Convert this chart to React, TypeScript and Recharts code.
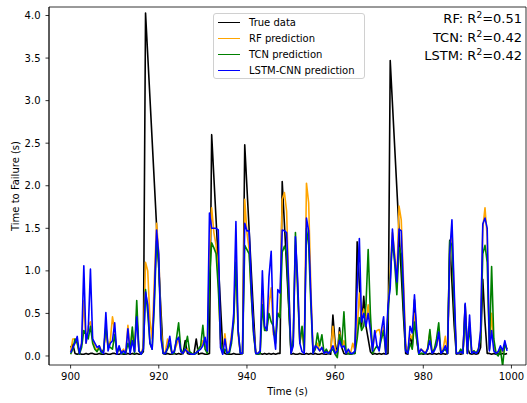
import { LineChart, Line, XAxis, YAxis, Legend } from 'recharts';

// sampled every 0.5 s from t = 900 s
const START_TIME = 900;
const STEP = 0.5;

const trueData = [
  0.1, 0.14, 0.03, 0.02, 0.03, 0.02, 0.02, 0.03, 0.02, 0.03,
  0.03, 0.02, 0.02, 0.03, 0.02, 0.02, 0.03, 0.02, 0.02, 0.03,
  0.03, 0.02, 0.02, 0.03, 0.02, 0.02, 0.03, 0.02, 0.03, 0.02,
  0.03, 0.02, 0.02, 0.05, 4.03, 3.53, 3.03, 2.53, 2.03, 1.53,
  1.03, 0.53, 0.03, 0.02, 0.03, 0.02, 0.02, 0.03, 0.02, 0.03,
  0.02, 0.03, 0.18, 0.03, 0.02, 0.02, 0.03, 0.2, 0.02, 0.03,
  0.03, 0.02, 0.02, 0.03, 2.6, 2.1, 1.6, 1.1, 0.6, 0.1,
  0.03, 0.02, 0.02, 0.02, 0.03, 0.02, 0.02, 0.02, 0.03, 2.48,
  1.98, 1.48, 0.98, 0.48, 0.03, 0.02, 0.03, 0.02, 0.03, 0.02,
  0.03, 0.02, 0.03, 0.02, 0.03, 0.03, 2.05, 1.55, 1.05, 0.55,
  0.02, 0.03, 0.02, 0.02, 0.03, 0.02, 0.02, 0.03, 0.02, 0.03,
  0.02, 0.03, 0.02, 0.02, 0.03, 0.02, 0.02, 0.03, 0.02, 0.48,
  0.15, 0.02, 0.33, 0.1, 0.03, 0.02, 0.03, 0.02, 0.03, 0.03,
  1.34, 0.84, 0.34, 0.7, 0.35, 0.2, 0.05, 0.02, 0.03, 0.02,
  0.03, 0.02, 0.03, 0.02, 0.03, 3.47, 2.97, 2.47, 1.97, 1.47,
  0.97, 0.47, 0.03, 0.02, 0.25, 0.1, 0.66, 0.2, 0.02, 0.03,
  0.02, 0.03, 0.02, 0.03, 0.02, 0.03, 0.02, 0.03, 0.02, 0.03,
  0.02, 0.03, 1.36, 0.86, 0.36, 0.02, 0.03, 0.02, 0.03, 0.6,
  0.1, 0.03, 0.02, 0.03, 0.02, 0.03, 0.1, 0.9, 0.4, 0.03,
  0.03, 0.02, 0.03, 0.02, 0.03, 0.02, 0.03, 0.02, 0.03,
];

const rfPred = [
  0.05, 0.2, 0.2, 0.15, 0.03, 0.15, 0.65, 0.15, 0.35, 0.4,
  0.2, 0.1, 0.06, 0.12, 0.06, 0.05, 0.3, 0.1, 0.18, 0.46,
  0.3, 0.03, 0.08, 0.05, 0.08, 0.03, 0.36, 0.06, 0.3, 0.06,
  0.5, 0.06, 0.02, 0.12, 1.1, 1.0, 0.42, 0.2, 0.9, 1.56,
  1.2, 0.35, 0.03, 0.05, 0.2, 0.12, 0.03, 0.06, 0.12, 0.22,
  0.06, 0.03, 0.06, 0.08, 0.03, 0.03, 0.02, 0.04, 0.08, 0.1,
  0.18, 0.12, 0.06, 1.2, 1.74, 1.45, 1.3, 0.9, 0.15, 0.03,
  0.26, 0.03, 0.06, 0.26, 0.4, 1.2, 0.25, 0.03, 0.03, 1.84,
  1.45, 1.25, 0.7, 0.3, 0.03, 0.03, 0.06, 0.7, 0.33, 0.3,
  0.6, 0.8, 0.25, 0.25, 0.5, 0.5, 1.84, 1.92, 1.7, 0.8,
  0.03, 0.15, 1.3, 0.85, 0.15, 0.3, 0.06, 2.03, 1.8, 0.8,
  0.03, 0.08, 0.15, 0.06, 0.1, 0.03, 0.06, 0.03, 0.08, 0.35,
  0.08, 0.03, 0.28, 0.1, 0.18, 0.03, 0.06, 0.03, 0.15, 0.06,
  0.3, 0.74, 0.45, 0.55, 0.4, 0.6, 0.35, 0.08, 0.25, 0.3,
  0.31, 0.2, 0.35, 0.03, 0.55, 1.0, 1.45, 1.2, 0.9, 1.76,
  1.6, 0.9, 0.15, 0.03, 0.25, 0.2, 0.5, 0.25, 0.03, 0.08,
  0.06, 0.03, 0.1, 0.28, 0.03, 0.08, 0.12, 0.25, 0.03, 0.08,
  0.23, 0.03, 1.1, 1.5, 0.7, 0.03, 0.03, 0.06, 0.03, 0.55,
  0.03, 0.4, 0.03, 0.06, 0.03, 0.08, 0.25, 1.5, 1.74, 1.4,
  0.08, 0.5, 0.12, 0.03, 0.05, 0.1, 0.05, 0.12, 0.08,
];

const tcnPred = [
  0.02, 0.08, 0.2, 0.15, 0.02, 0.1, 0.3, 0.25, 0.2, 0.35,
  0.15, 0.08, 0.05, 0.1, 0.03, 0.08, 0.35, 0.12, 0.1, 0.08,
  0.25, 0.03, 0.1, 0.03, 0.03, 0.03, 0.15, 0.06, 0.34, 0.03,
  0.65, 0.06, 0.02, 0.08, 0.78, 0.5, 0.15, 0.08, 0.6, 1.35,
  1.1, 0.25, 0.03, 0.03, 0.08, 0.15, 0.03, 0.03, 0.2, 0.39,
  0.08, 0.03, 0.1, 0.23, 0.05, 0.03, 0.02, 0.03, 0.08, 0.12,
  0.36, 0.08, 0.03, 0.9, 1.33, 1.27, 1.2, 0.8, 0.2, 0.03,
  0.08, 0.03, 0.03, 0.15, 0.4, 1.1, 0.3, 0.03, 0.03, 1.3,
  1.25, 1.2, 0.7, 0.25, 0.03, 0.02, 0.03, 0.6, 0.3, 0.3,
  0.5, 0.4, 0.35, 0.15, 0.5, 0.45, 1.22, 1.29, 1.2, 0.6,
  0.03, 0.2, 1.45, 0.75, 0.15, 0.35, 0.06, 1.5, 1.3, 0.6,
  0.03, 0.08, 0.27, 0.12, 0.25, 0.03, 0.08, 0.03, 0.06, 0.08,
  0.02, -0.02, 0.25, 0.12, 0.52, 0.03, 0.03, 0.02, 0.03, 0.03,
  0.2, 0.45, 0.3, 0.35, 0.6, 1.25, 0.5, 0.03, 0.08, 0.12,
  0.08, 0.2, 0.3, 0.03, 0.5, 0.9, 1.36, 1.1, 0.72, 1.27,
  1.2, 0.6, 0.08, 0.03, 0.15, 0.08, 0.4, 0.2, 0.02, 0.03,
  0.03, 0.03, 0.08, 0.31, 0.03, 0.08, 0.2, 0.39, 0.03, 0.06,
  0.08, 0.03, 1.35, 1.3, 0.6, 0.03, 0.03, 0.08, 0.03, 0.5,
  0.03, 0.35, 0.03, 0.06, 0.03, 0.08, 0.2, 1.2, 1.3, 1.1,
  0.08, 1.05, 0.2, 0.03, 0.0, 0.08, -0.12, 0.15, 0.08,
];

const lstmPred = [
  0.04, 0.1, 0.15, 0.23, 0.03, 0.15, 1.06, 0.15, 0.3, 1.02,
  0.2, 0.15, 0.1, 0.12, 0.05, 0.03, 0.51, 0.06, 0.15, 0.18,
  0.39, 0.02, 0.12, 0.03, 0.06, 0.03, 0.32, 0.03, 0.18, 0.05,
  0.46, 0.06, 0.02, 0.08, 0.75, 0.6, 0.15, 0.08, 0.7, 1.48,
  1.19, 0.2, 0.03, 0.03, 0.1, 0.23, 0.03, 0.05, 0.18, 0.22,
  0.05, 0.03, 0.08, 0.05, 0.03, 0.02, 0.02, 0.04, 0.06, 0.08,
  0.12, 0.22, 0.06, 1.68, 1.5, 1.5, 1.5, 1.48, 0.1, 0.02,
  0.2, 0.03, 0.05, 0.2, 0.5, 1.58, 0.3, 0.03, 0.03, 1.56,
  1.47, 1.47, 0.8, 0.3, 0.03, 0.03, 0.06, 1.0, 0.35, 0.3,
  0.93, 1.23, 0.3, 0.08, 0.78, 0.74, 1.48, 1.47, 1.45, 0.8,
  0.03, 0.12, 1.4, 0.9, 0.15, 0.05, 0.03, 1.62, 1.47, 0.7,
  0.03, 0.12, 0.1, 0.06, 0.1, 0.03, 0.05, 0.03, 0.06, 0.12,
  0.03, 0.06, 0.18, 0.1, 0.12, 0.03, 0.08, 0.03, 0.03, 0.06,
  0.8, 1.38, 0.4, 0.5, 0.35, 0.5, 0.3, 0.06, 0.3, 0.12,
  0.06, 0.3, 0.46, 0.02, 0.6, 0.8, 1.49, 1.15, 0.87, 1.49,
  1.47, 0.8, 0.06, 0.03, 0.35, 0.27, 0.72, 0.3, 0.03, 0.08,
  0.05, 0.03, 0.08, 0.18, 0.03, 0.06, 0.12, 0.28, 0.03, 0.06,
  0.12, 0.03, 1.2, 1.6, 0.8, 0.03, 0.03, 0.05, 0.03, 0.62,
  0.03, 0.48, 0.03, 0.05, 0.03, 0.06, 0.3, 1.55, 1.62, 1.5,
  0.06, 0.3, 0.06, 0.03, 0.05, 0.12, 0.06, 0.18, 0.06,
];

const xTicks = [900, 920, 940, 960, 980, 1000];
const yTicks = [0, 0.5, 1, 1.5, 2, 2.5, 3, 3.5, 4];

const series = [
  { key: 'truth', name: 'True data', color: '#000000' },
  { key: 'rf', name: 'RF prediction', color: '#ffa500' },
  { key: 'tcn', name: 'TCN prediction', color: '#008000' },
  { key: 'lstm', name: 'LSTM-CNN prediction', color: '#0000ff' },
];

const scores = [
  { model: 'RF', r2: '0.51' },
  { model: 'TCN', r2: '0.42' },
  { model: 'LSTM', r2: '0.42' },
];

const data = trueData.map((v, i) => ({
  t: START_TIME + i * STEP,
  truth: v,
  rf: rfPred[i],
  tcn: tcnPred[i],
  lstm: lstmPred[i],
}));

const FONT = '"DejaVu Sans", sans-serif';
const xDomain = [895.1, 1003.3];
const yDomain = [-0.106, 4.1];
const axisLine = { stroke: '#000', strokeWidth: 0.8 };
const tickStyle = { fill: '#000', fontSize: 10, fontFamily: FONT };

const renderLegend = () => (
  <div
    style={{
      boxSizing: 'border-box',
      width: 152,
      height: 66,
      padding: '1px 0 0 4px',
      border: '1px solid #d0d0d0',
      borderRadius: 3,
      background: 'rgba(255,255,255,0.8)',
      fontFamily: FONT,
      fontSize: 10,
      color: '#000',
    }}
  >
    {series.map((s) => (
      <div key={s.key} style={{ display: 'flex', alignItems: 'center', height: 15.8 }}>
        <span style={{ display: 'inline-block', width: 22, borderTop: `1.5px solid ${s.color}`, marginRight: 9 }} />
        <span style={{ whiteSpace: 'nowrap' }}>{s.name}</span>
      </div>
    ))}
  </div>
);

export default function App() {
  return (
    <div style={{ position: 'absolute', left: 0, top: 0, width: 527, height: 403, background: '#fff' }}>
      <LineChart width={527} height={403} data={data} margin={{ top: 7, right: 1, bottom: 0, left: 0 }}>
        <XAxis
          dataKey="t"
          type="number"
          domain={xDomain}
          ticks={xTicks}
          allowDataOverflow
          height={38}
          tickSize={3.5}
          tickMargin={4}
          tick={tickStyle}
          axisLine={axisLine}
          tickLine={axisLine}
          label={({ viewBox }: any) => (
            <text
              x={viewBox.x + viewBox.width / 2}
              y={viewBox.y + 30}
              textAnchor="middle"
              fontFamily={FONT}
              fontSize={10}
              fill="#000"
            >
              Time (s)
            </text>
          )}
        />
        <YAxis
          type="number"
          domain={yDomain}
          ticks={yTicks}
          allowDataOverflow
          width={49}
          tickSize={3.5}
          tickMargin={5}
          tick={tickStyle}
          tickFormatter={(v: number) => v.toFixed(1)}
          axisLine={axisLine}
          tickLine={axisLine}
          label={({ viewBox }: any) => (
            <text
              x={15}
              y={viewBox.y + viewBox.height / 2}
              transform={`rotate(-90, 15, ${viewBox.y + viewBox.height / 2})`}
              textAnchor="middle"
              dominantBaseline="central"
              fontFamily={FONT}
              fontSize={10}
              fill="#000"
            >
              Time to Failure (s)
            </text>
          )}
        />
        {series.map((s) => (
          <Line
            key={s.key}
            dataKey={s.key}
            name={s.name}
            type="linear"
            stroke={s.color}
            strokeWidth={1.6}
            strokeLinejoin="round"
            dot={false}
            activeDot={false}
            isAnimationActive={false}
          />
        ))}
        <Legend
          layout="horizontal"
          verticalAlign="middle"
          content={renderLegend}
          wrapperStyle={{ left: 213, top: 13, width: 152, height: 66 }}
        />
      </LineChart>
      {/* top and right spines of the plot frame */}
      <svg width={527} height={403} style={{ position: 'absolute', left: 0, top: 0, pointerEvents: 'none' }}>
        <polyline points="49,365 49,7 526,7 526,365" fill="none" stroke="#000" strokeWidth={0.8} />
      </svg>
      <div
        style={{
          position: 'absolute',
          right: 5,
          top: 10,
          textAlign: 'right',
          fontFamily: FONT,
          fontSize: 13,
          lineHeight: '18.5px',
          color: '#000',
        }}
      >
        {scores.map((s) => (
          <div key={s.model}>
            {s.model}: R<sup style={{ fontSize: 9, verticalAlign: 'top', lineHeight: '10px' }}>2</sup>={s.r2}
          </div>
        ))}
      </div>
    </div>
  );
}
